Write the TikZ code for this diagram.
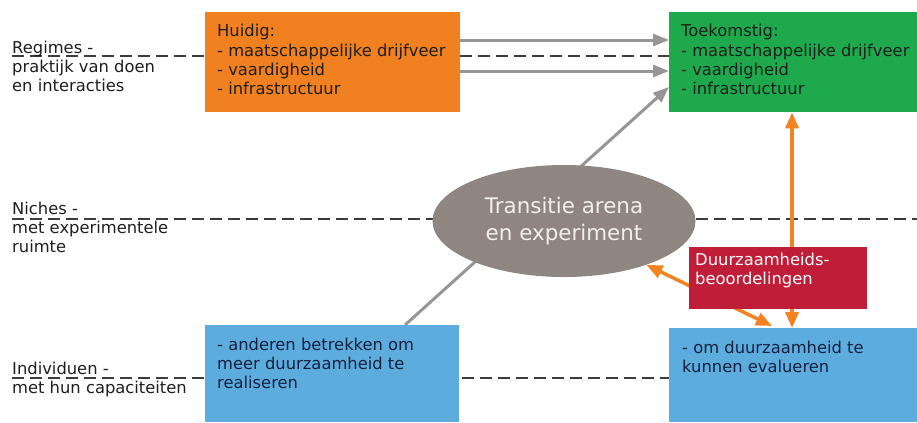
\documentclass[tikz,border=0pt]{standalone}
\usepackage{fontspec}
\setmainfont{DejaVu Sans}
\usetikzlibrary{arrows.meta,shapes.geometric,calc}
\definecolor{orgbox}{RGB}{241,128,33}
\definecolor{grnbox}{RGB}{30,170,76}
\definecolor{redbox}{RGB}{192,30,56}
\definecolor{blubox}{RGB}{92,173,222}
\definecolor{ellgray}{RGB}{143,134,129}
\definecolor{arrgray}{RGB}{150,150,150}
\definecolor{arrorange}{RGB}{245,130,32}
\definecolor{dashgray}{RGB}{60,60,60}
\definecolor{txtdark}{RGB}{30,30,30}
\definecolor{txtnavy}{RGB}{22,32,62}
\definecolor{elltxt}{RGB}{242,239,234}
\pgfdeclarelayer{bg}
\pgfsetlayers{bg,main}
\begin{document}
\begin{tikzpicture}[x=1bp,y=-1bp,
  box/.style={draw=none, inner sep=0pt, anchor=north west},
  txt/.style={inner sep=0pt, anchor=north west, align=left, font=\fontsize{16.4}{19.5}\selectfont, text=txtdark},
  dashline/.style={draw=dashgray, line width=1.2bp, dash pattern=on 12bp off 6bp},
  garrow/.style={draw=arrgray, line width=3bp, -{Triangle[length=16bp,width=12bp]}},
  oarrow/.style={draw=arrorange, line width=3.5bp, {Triangle[length=16bp,width=13bp]}-{Triangle[length=16bp,width=13bp]}}
]
\useasboundingbox (0,0) rectangle (917,422);

% boxes
\node[box, fill=orgbox, minimum width=255bp, minimum height=100bp] (huidig) at (205,12) {};
\node[box, fill=grnbox, minimum width=248bp, minimum height=100bp] (toekomst) at (669,12) {};
\node[box, fill=redbox, minimum width=178bp, minimum height=62bp] (beoord) at (689,247) {};
\node[box, fill=blubox, minimum width=254bp, minimum height=97bp] (blueL) at (205,325) {};
\node[box, fill=blubox, minimum width=248bp, minimum height=94bp] (blueR) at (669,328) {};
\node[ellipse, fill=ellgray, minimum width=263bp, minimum height=112bp, inner sep=0pt,
      align=center, text=elltxt, font=\fontsize{21.5}{27}\selectfont] (arena) at (564,221)
      {Transitie arena\\en experiment};

% box texts (top = first baseline - 12.5)
\node[txt] (huidigT) at ($(huidig.north west)+(12,12)$)
  {Huidig:\\- maatschappelijke drijfveer\\- vaardigheid\\- infrastructuur};
\node[txt] (toekomstT) at ($(toekomst.north west)+(12,12)$)
  {Toekomstig:\\- maatschappelijke drijfveer\\- vaardigheid\\- infrastructuur};
\node[txt, text=white] (beoordT) at ($(beoord.north west)+(6,5.5)$)
  {Duurzaamheids-\\beoordelingen};
\node[txt, text=txtnavy] (blueLT) at ($(blueL.north west)+(12,12.5)$)
  {- anderen betrekken om\\meer duurzaamheid te\\realiseren};
\node[txt, text=txtnavy] (blueRT) at ($(blueR.north west)+(13,12.5)$)
  {- om duurzaamheid te\\kunnen evalueren};

% left labels
\node[txt] (regimes) at (12,40.5) {Regimes -\\praktijk van doen\\en interacties};
\node[txt] (niches) at (12,201.5) {Niches -\\met experimentele\\ruimte};
\node[txt] (indiv) at (12,361.5) {Individuen -\\met hun capaciteiten};

\coordinate (dA) at (12,56);
\coordinate (dB) at (12,219);
\coordinate (dBend) at (917,219);
\coordinate (dC) at (12,378);

\begin{pgfonlayer}{bg}
  % dashed level lines
  \draw[dashline] (dA) -- (huidig.west |- dA);
  \draw[dashline] (huidig.east |- dA) -- (toekomst.west |- dA);
  \draw[dashline] (dB) -- (dBend);
  \draw[dashline] (dC) -- (blueR.west |- dC);
  % gray arrows
  \draw[garrow] ($(huidig.north east)+(0,28)$) -- ($(toekomst.north west)+(0,28)$);
  \draw[garrow] ($(huidig.north east)+(0,59)$) -- ($(toekomst.north west)+(0,59)$);
  \draw[garrow] ($(blueL.north west)+(200,0)$) -- ($(toekomst.north west)+(0,75)$);
  % orange arrows
  \draw[oarrow] ($(blueR.north west)+(123,0)$) -- ($(toekomst.south west)+(123,0)$);
  \draw[oarrow] (arena.-28) -- ($(blueR.north west)+(103,-2)$);
\end{pgfonlayer}
\end{tikzpicture}
\end{document}
